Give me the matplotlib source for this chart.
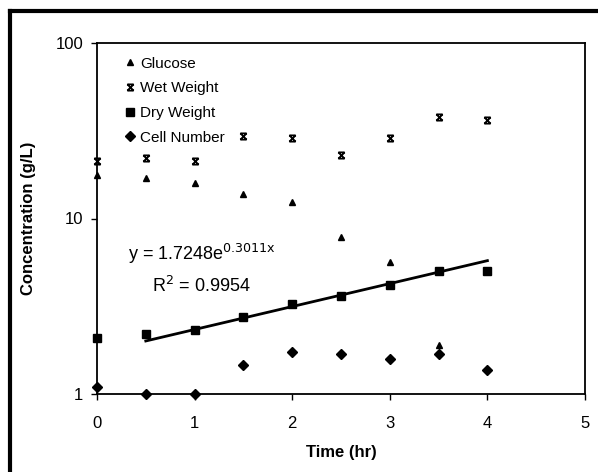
import matplotlib.pyplot as plt
import numpy as np
from matplotlib.path import Path

plt.rcParams['font.family'] = ['Liberation Sans', 'DejaVu Sans']

# data
time = [0, 0.5, 1, 1.5, 2, 2.5, 3, 3.5, 4]
glucose_t = [0, 0.5, 1, 1.5, 2, 2.5, 3, 3.5]
glucose = [17.7, 17.0, 15.9, 13.8, 12.4, 7.85, 5.65, 1.90]
wet_weight = [21.3, 22.1, 21.2, 29.5, 28.8, 23.0, 28.8, 37.9, 36.4]
dry_weight = [2.08, 2.20, 2.32, 2.75, 3.26, 3.62, 4.18, 5.02, 5.05]
cell_number = [1.10, 1.0, 1.0, 1.46, 1.73, 1.69, 1.58, 1.69, 1.37]

# exponential trendline shown on the chart
fit_a = 1.7248
fit_b = 0.3011
fit_start, fit_end = 0.5, 4

# hourglass style "x" marker like the Excel one
star = Path([(-1, -1), (1, 1), (-1, 1), (1, -1), (-1, 1), (1, 1), (-1, -1), (1, -1)],
            [Path.MOVETO, Path.LINETO, Path.MOVETO, Path.LINETO,
             Path.MOVETO, Path.LINETO, Path.MOVETO, Path.LINETO])

fig = plt.figure(figsize=(5.98, 4.72), dpi=100)
ax = fig.add_axes([97/598, 1 - 394/472, (585-97)/598, (394-43)/472])

ax.plot(glucose_t, glucose, '^', color='black', ms=5, clip_on=False, label='Glucose')
ax.plot(time, wet_weight, linestyle='none', marker=star, color='black', ms=4.5,
        mew=1.3, clip_on=False, label='Wet Weight')
ax.plot(time, dry_weight, 's', color='black', ms=6, clip_on=False, label='Dry Weight')
ax.plot(time, cell_number, 'D', color='black', ms=5, clip_on=False, label='Cell Number')

xf = np.linspace(fit_start, fit_end, 50)
ax.plot(xf, fit_a * np.exp(fit_b * xf), color='black', lw=2)

ax.set_yscale('log')
ax.set_xlim(0, 5)
ax.set_ylim(1, 100)
ax.set_xticks([0, 1, 2, 3, 4, 5])
ax.set_yticks([1, 10, 100])
ax.set_yticklabels(['1', '10', '100'])
ax.minorticks_off()
ax.tick_params(direction='out', length=4, width=1, labelsize=12)
ax.tick_params(axis='x', pad=12)
ax.tick_params(axis='y', pad=6)
for s in ax.spines.values():
    s.set_linewidth(1.3)

ax.set_xlabel('Time (hr)', fontsize=12, fontweight='bold', labelpad=10)
ax.set_ylabel('Concentration (g/L)', fontsize=12, fontweight='bold', labelpad=14)

ax.text(0.32, 6.25, r'y = 1.7248e$^{\mathrm{0.3011x}}$', fontsize=13, ha='left', va='center')
ax.text(0.56, 4.15, r'R$^{\mathrm{2}}$ = 0.9954', fontsize=13, ha='left', va='center')

ax.legend(loc='upper left', frameon=False, fontsize=11, handletextpad=0.1,
          handlelength=1.2, labelspacing=0.7, bbox_to_anchor=(0.02, 1.0))

# outer chart frame (left and top edges)
fig.add_artist(plt.Line2D([10/598, 10/598], [0, 1 - 11/472], color='black', lw=3))
fig.add_artist(plt.Line2D([10/598, 1], [1 - 11/472, 1 - 11/472], color='black', lw=3))

plt.savefig('out.png', dpi=100)
